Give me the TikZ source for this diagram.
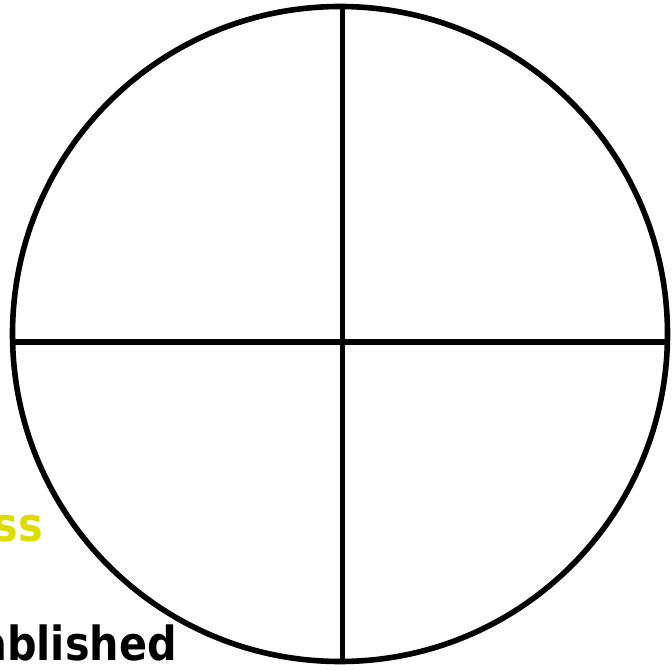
\documentclass[tikz,border=0pt]{standalone}
\usepackage{fontspec}
\newfontfamily\quadfont[FakeStretch=0.88]{DejaVu Sans}
\usepackage{xcolor}
\definecolor{quadyellow}{RGB}{220,220,0}
\tikzset{
  every picture/.append style={line cap=round,line join=round},
  quad ring/.style={black,line width=5.6pt},
  quad axis/.style={black,line width=5.6pt,line cap=butt},
  quad word/.style={font=\quadfont\bfseries\fontsize{47}{52}\selectfont,inner sep=0pt,anchor=base east}
}
\begin{document}
\begin{tikzpicture}[x=1pt,y=-1pt]
\useasboundingbox (0,0) rectangle (672,671);
\coordinate (mid) at (340,334);
\draw[quad ring] (mid) circle (327.5);
\draw[quad axis] (342.5,7) -- (342.5,661);
\draw[quad axis] (12.5,342) -- (667.5,342);
\node[quad word,text=quadyellow] (upper) at (43,541) {ss};
\node[quad word] (lower) at (177,660) {ablished};
\end{tikzpicture}
\end{document}
